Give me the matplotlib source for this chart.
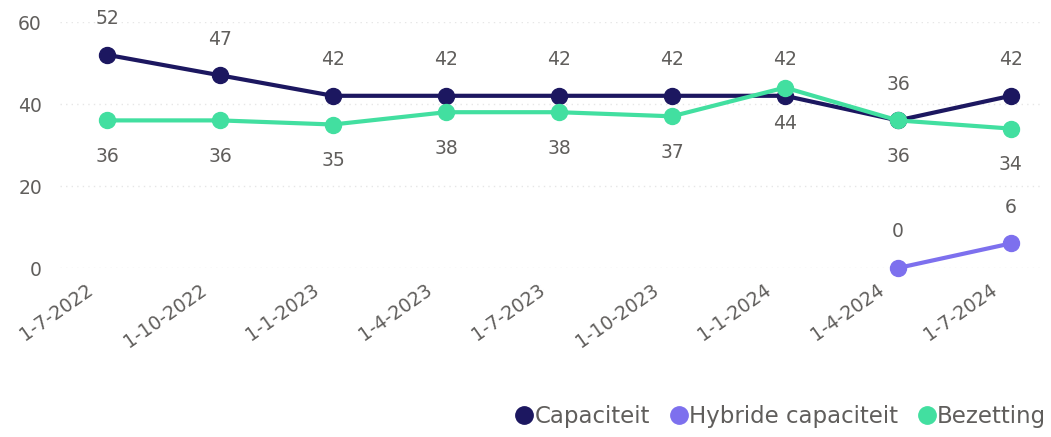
import numpy as np
import matplotlib.pyplot as plt
import matplotlib.transforms as mtransforms

plt.rcParams['font.family'] = ['DejaVu Sans']

datums = ['1-7-2022', '1-10-2022', '1-1-2023', '1-4-2023', '1-7-2023',
          '1-10-2023', '1-1-2024', '1-4-2024', '1-7-2024']
capaciteit = [52, 47, 42, 42, 42, 42, 42, 36, 42]
bezetting = [36, 36, 35, 38, 38, 37, 44, 36, 34]
hybride_idx = [7, 8]
hybride = [0, 6]

kleur_cap = '#1C1760'
kleur_hyb = '#7D70EE'
kleur_bez = '#42DFA0'
grijs = '#605E5C'

fig = plt.figure(figsize=(10.51, 4.37), dpi=100)
ax = fig.add_axes([60/1051, (437-268)/437, 980/1051, 246/437])

x = np.arange(len(datums))
ax.plot(x, capaciteit, color=kleur_cap, lw=3, marker='o', ms=11.5, clip_on=False, zorder=3, label='Capaciteit')
ax.plot(hybride_idx, hybride, color=kleur_hyb, lw=3, marker='o', ms=11.5, clip_on=False, zorder=3, label='Hybride capaciteit')
ax.plot(x, bezetting, color=kleur_bez, lw=3, marker='o', ms=11.5, clip_on=False, zorder=4, label='Bezetting')

# labels: capaciteit boven, bezetting onder
fs = 13.5
for i, v in enumerate(capaciteit):
    ax.annotate(str(v), (i, v), xytext=(0, 26), textcoords='offset points',
                ha='center', va='center', fontsize=fs, color=grijs)
for i, v in enumerate(bezetting):
    ax.annotate(str(v), (i, v), xytext=(0, -26), textcoords='offset points',
                ha='center', va='center', fontsize=fs, color=grijs)
for i, v in zip(hybride_idx, hybride):
    ax.annotate(str(v), (i, v), xytext=(0, 26), textcoords='offset points',
                ha='center', va='center', fontsize=fs, color=grijs)

ax.set_xlim(-0.416, 8.257)
ax.set_ylim(0, 60)
ax.set_yticks([0, 20, 40, 60])
ax.set_xticks(x)
ax.set_xticklabels(datums, rotation=35, ha='right', rotation_mode='anchor')
ax.tick_params(axis='both', length=0, labelsize=fs, labelcolor=grijs)
ax.tick_params(axis='y', pad=13)
ax.tick_params(axis='x', pad=9)
offset = mtransforms.ScaledTranslation(-21/100, 0, fig.dpi_scale_trans)
for lbl in ax.get_xticklabels():
    lbl.set_transform(lbl.get_transform() + offset)
ax.yaxis.grid(True, color='#E6E6E6', linestyle=(0, (1, 3)), lw=1)
ax.set_axisbelow(True)
for s in ax.spines.values():
    s.set_visible(False)

leg = fig.legend(loc='center right', bbox_to_anchor=(1046/1051, 1 - 417/437), ncol=3, frameon=False,
                 fontsize=16.5, labelcolor=grijs, handlelength=0.7, handletextpad=0.1,
                 columnspacing=0.9, borderaxespad=0, borderpad=0)
for h in leg.legend_handles:
    h.set_linestyle('')
    h.set_markersize(12.5)

fig.savefig('out.png', dpi=100)
